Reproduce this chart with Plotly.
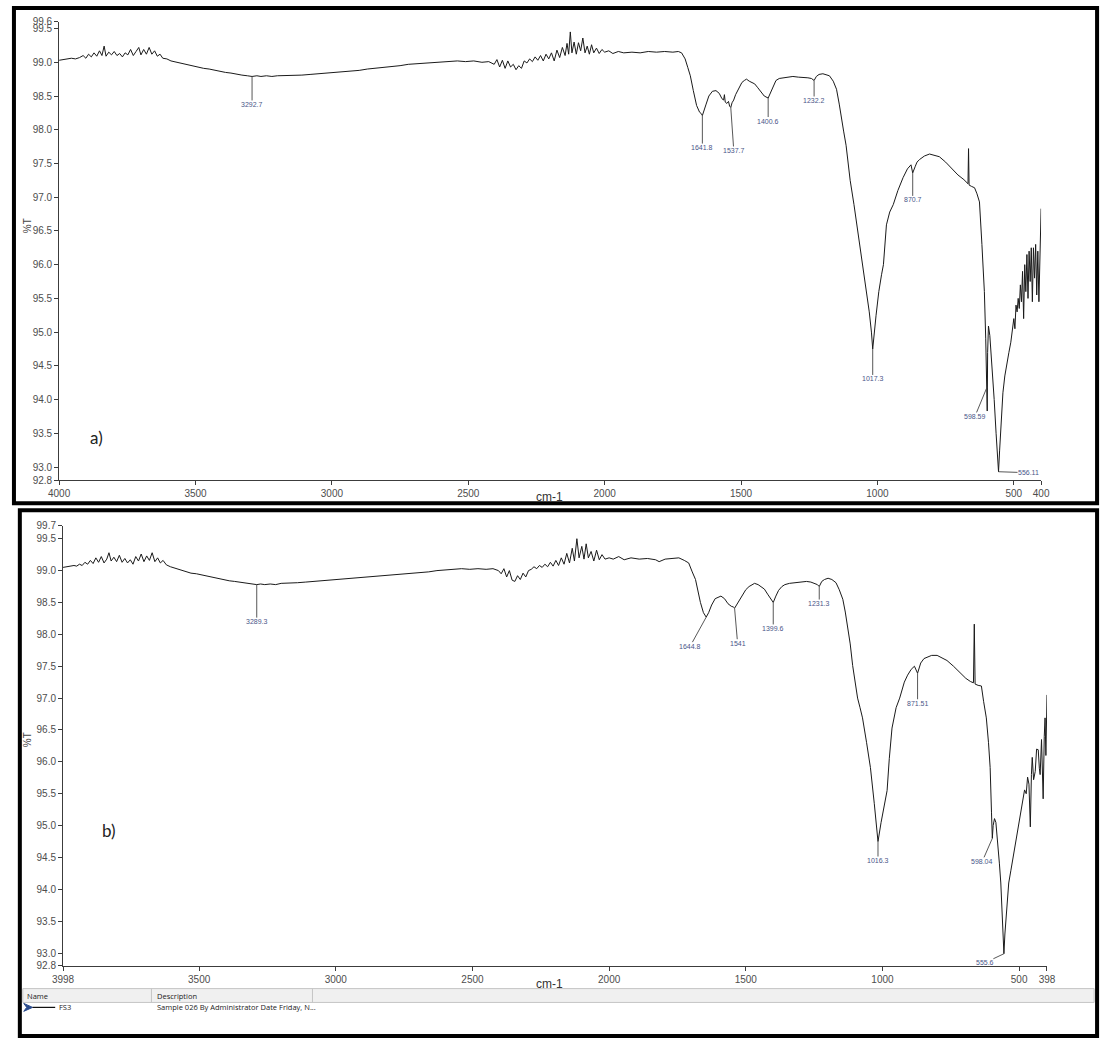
import numpy as np
import plotly.graph_objects as go

W, H = 1110, 1046

# ---------------- spectrum a) : (wavenumber cm-1, %T) ----------------
spec_a = [
    (4000, 99.03), (3985, 99.04), (3970, 99.04), (3955, 99.06), (3940, 99.05), (3925, 99.07),
    (3912, 99.10), (3902, 99.06), (3892, 99.12), (3882, 99.08), (3872, 99.14), (3862, 99.09),
    (3852, 99.17), (3843, 99.10), (3835, 99.24), (3828, 99.09), (3818, 99.15), (3808, 99.11),
    (3798, 99.16), (3788, 99.10), (3778, 99.13), (3768, 99.08), (3758, 99.14), (3748, 99.11),
    (3738, 99.19), (3728, 99.10), (3718, 99.16), (3708, 99.22), (3700, 99.11), (3690, 99.19),
    (3680, 99.12), (3670, 99.22), (3660, 99.12), (3650, 99.17), (3640, 99.09), (3630, 99.12),
    (3620, 99.06), (3605, 99.05), (3590, 99.02), (3570, 99.00), (3550, 98.98), (3530, 98.96),
    (3510, 98.95), (3490, 98.93), (3470, 98.91), (3450, 98.90), (3430, 98.88), (3410, 98.87),
    (3390, 98.85), (3370, 98.84), (3350, 98.82), (3330, 98.81), (3310, 98.80), (3292.7, 98.79),
    (3275, 98.80), (3260, 98.79), (3240, 98.80), (3220, 98.79), (3200, 98.80), (3170, 98.80),
    (3140, 98.81), (3110, 98.81), (3080, 98.82), (3050, 98.83), (3020, 98.84), (2990, 98.84),
    (2960, 98.86), (2930, 98.87), (2900, 98.88), (2870, 98.90), (2840, 98.91), (2810, 98.92),
    (2780, 98.94), (2750, 98.95), (2720, 98.97), (2690, 98.98), (2660, 98.99), (2630, 99.00),
    (2600, 99.01), (2570, 99.01), (2540, 99.02), (2510, 99.01), (2480, 99.02), (2450, 99.00),
    (2425, 99.01), (2405, 98.97), (2395, 99.04), (2385, 98.93), (2375, 99.03), (2365, 98.91),
    (2355, 99.02), (2345, 98.93), (2335, 98.97), (2325, 98.89), (2315, 98.95), (2305, 98.91),
    (2295, 99.02), (2285, 98.99), (2275, 99.05), (2265, 99.01), (2255, 99.08), (2245, 99.03),
    (2235, 99.10), (2225, 99.02), (2215, 99.12), (2205, 99.05), (2195, 99.14), (2185, 99.02),
    (2175, 99.18), (2165, 99.07), (2155, 99.22), (2145, 99.10), (2138, 99.28), (2132, 99.12),
    (2126, 99.45), (2120, 99.14), (2112, 99.30), (2104, 99.12), (2096, 99.29), (2088, 99.17),
    (2080, 99.36), (2072, 99.14), (2064, 99.24), (2056, 99.12), (2048, 99.26), (2040, 99.14),
    (2030, 99.21), (2020, 99.13), (2010, 99.19), (2000, 99.15), (1985, 99.17), (1970, 99.13),
    (1950, 99.16), (1930, 99.14), (1900, 99.15), (1870, 99.14), (1840, 99.16), (1810, 99.15),
    (1780, 99.16), (1750, 99.15), (1730, 99.16), (1718, 99.14), (1705, 99.05), (1695, 98.92),
    (1686, 98.80), (1675, 98.58), (1663, 98.36), (1652, 98.26), (1646, 98.24), (1641.8, 98.21),
    (1636, 98.27), (1628, 98.38), (1618, 98.50), (1605, 98.57), (1592, 98.58), (1580, 98.54),
    (1570, 98.46), (1564, 98.44), (1561, 98.52), (1558, 98.41), (1552, 98.39), (1546, 98.42),
    (1542, 98.35), (1537.7, 98.33), (1533, 98.40), (1527, 98.44), (1520, 98.52), (1512, 98.58),
    (1505, 98.63), (1497, 98.70), (1488, 98.73), (1480, 98.75), (1470, 98.72), (1460, 98.70),
    (1450, 98.68), (1440, 98.63), (1428, 98.56), (1415, 98.50), (1400.6, 98.47), (1392, 98.55),
    (1383, 98.65), (1372, 98.73), (1360, 98.76), (1345, 98.77), (1330, 98.78), (1310, 98.79),
    (1290, 98.78), (1270, 98.78), (1255, 98.77), (1242, 98.76), (1232.2, 98.73), (1224, 98.79),
    (1214, 98.82), (1200, 98.83), (1188, 98.82), (1176, 98.80), (1162, 98.72), (1150, 98.60),
    (1140, 98.38), (1133, 98.17), (1124, 97.98), (1115, 97.77), (1100, 97.25), (1086, 96.89),
    (1075, 96.59), (1060, 96.15), (1043, 95.71), (1030, 95.30), (1022, 95.00), (1017.3, 94.75),
    (1005, 95.25), (995, 95.60), (985, 95.85), (978, 96.00), (967, 96.59), (955, 96.78),
    (942, 96.89), (925, 97.10), (906, 97.29), (890, 97.42), (877, 97.48), (870.7, 97.36),
    (862, 97.45), (855, 97.52), (845, 97.56), (828, 97.61), (809, 97.64), (790, 97.62),
    (773, 97.60), (750, 97.52), (727, 97.43), (705, 97.33), (683, 97.26), (672, 97.22),
    (668, 97.20), (666, 97.72), (664, 97.18), (655, 97.16), (644, 97.14), (635, 97.05),
    (626, 96.93), (617, 96.30), (608, 95.60), (603, 94.90), (598.59, 94.18), (597.5, 93.83),
    (596, 94.70), (593, 95.09), (588, 94.95), (580, 94.50), (572, 94.00), (565, 93.50),
    (560, 93.10), (556.11, 92.93), (552, 93.25), (545, 93.70), (540, 94.10), (533, 94.35),
    (526, 94.55), (518, 94.70), (511, 94.85), (505, 95.10), (500, 95.20), (496, 95.05),
    (492, 95.40), (488, 95.30), (484, 95.50), (480, 95.35), (476, 95.70), (472, 95.45),
    (468, 95.90), (464, 95.20), (460, 96.00), (456, 95.60), (452, 96.15), (448, 95.50),
    (444, 96.20), (440, 95.75), (436, 96.25), (432, 95.45), (428, 96.25), (424, 95.80),
    (420, 96.30), (416, 95.55), (412, 96.20), (408, 95.45), (404, 96.10), (400, 96.83),
]

# ---------------- spectrum b) : (wavenumber cm-1, %T) ----------------
spec_b = [
    (3998, 99.05), (3985, 99.06), (3970, 99.07), (3958, 99.08), (3948, 99.07), (3938, 99.10),
    (3928, 99.08), (3918, 99.13), (3908, 99.10), (3898, 99.16), (3888, 99.11), (3878, 99.20),
    (3868, 99.13), (3858, 99.22), (3848, 99.12), (3838, 99.18), (3830, 99.28), (3822, 99.15),
    (3812, 99.21), (3802, 99.14), (3792, 99.24), (3782, 99.13), (3772, 99.19), (3762, 99.12),
    (3752, 99.17), (3742, 99.10), (3732, 99.22), (3722, 99.15), (3712, 99.26), (3702, 99.14),
    (3692, 99.23), (3682, 99.16), (3672, 99.28), (3662, 99.14), (3652, 99.20), (3642, 99.12),
    (3632, 99.16), (3620, 99.09), (3605, 99.06), (3590, 99.04), (3570, 99.01), (3550, 98.99),
    (3530, 98.96), (3510, 98.95), (3490, 98.93), (3470, 98.91), (3450, 98.89), (3430, 98.87),
    (3410, 98.86), (3390, 98.84), (3370, 98.83), (3350, 98.82), (3330, 98.81), (3310, 98.80),
    (3300, 98.79), (3289.3, 98.78), (3275, 98.79), (3260, 98.78), (3240, 98.79), (3220, 98.78),
    (3200, 98.80), (3170, 98.80), (3140, 98.81), (3110, 98.82), (3080, 98.83), (3050, 98.85),
    (3020, 98.86), (2990, 98.87), (2960, 98.88), (2930, 98.89), (2900, 98.90), (2870, 98.91),
    (2840, 98.92), (2810, 98.93), (2780, 98.94), (2750, 98.95), (2720, 98.96), (2690, 98.97),
    (2660, 98.98), (2630, 99.00), (2600, 99.01), (2570, 99.02), (2540, 99.03), (2510, 99.02),
    (2480, 99.03), (2450, 99.02), (2425, 99.03), (2405, 99.00), (2395, 98.95), (2385, 99.03),
    (2375, 98.90), (2365, 99.00), (2355, 98.85), (2345, 98.83), (2335, 98.92), (2325, 98.86),
    (2315, 98.96), (2305, 98.90), (2295, 99.00), (2285, 99.02), (2275, 99.06), (2265, 99.03),
    (2255, 99.08), (2245, 99.05), (2235, 99.10), (2225, 99.06), (2215, 99.13), (2205, 99.07),
    (2195, 99.16), (2185, 99.08), (2175, 99.20), (2165, 99.10), (2155, 99.27), (2145, 99.12),
    (2135, 99.35), (2127, 99.15), (2118, 99.50), (2110, 99.20), (2100, 99.38), (2092, 99.18),
    (2084, 99.42), (2076, 99.20), (2066, 99.30), (2056, 99.15), (2046, 99.32), (2036, 99.17),
    (2026, 99.25), (2015, 99.18), (2000, 99.20), (1985, 99.18), (1965, 99.22), (1945, 99.17),
    (1920, 99.20), (1890, 99.18), (1860, 99.19), (1830, 99.17), (1817, 99.14), (1795, 99.18),
    (1770, 99.19), (1745, 99.20), (1725, 99.16), (1709, 99.12), (1696, 98.98), (1684, 98.86),
    (1675, 98.68), (1666, 98.50), (1655, 98.34), (1648, 98.29), (1644.8, 98.27), (1636, 98.34),
    (1625, 98.46), (1612, 98.56), (1600, 98.59), (1591, 98.60), (1578, 98.56), (1565, 98.48),
    (1553, 98.44), (1546, 98.43), (1541, 98.41), (1534, 98.46), (1524, 98.54), (1512, 98.63),
    (1500, 98.70), (1488, 98.75), (1475, 98.79), (1468, 98.80), (1455, 98.78), (1443, 98.75),
    (1432, 98.71), (1420, 98.63), (1408, 98.55), (1399.6, 98.50), (1390, 98.60), (1380, 98.69),
    (1368, 98.75), (1357, 98.78), (1340, 98.80), (1320, 98.81), (1300, 98.82), (1278, 98.83),
    (1262, 98.82), (1248, 98.80), (1238, 98.78), (1231.3, 98.75), (1222, 98.83), (1212, 98.86),
    (1199, 98.88), (1185, 98.86), (1170, 98.81), (1158, 98.70), (1145, 98.55), (1136, 98.35),
    (1127, 98.13), (1118, 97.85), (1109, 97.51), (1100, 97.25), (1091, 97.00), (1082, 96.85),
    (1073, 96.69), (1058, 96.30), (1044, 95.91), (1030, 95.35), (1022, 95.00), (1016.3, 94.75),
    (1005, 95.05), (995, 95.30), (983, 95.55), (975, 96.05), (965, 96.53), (950, 96.85),
    (937, 97.00), (920, 97.25), (908, 97.36), (895, 97.45), (883, 97.50), (871.51, 97.39),
    (860, 97.55), (848, 97.62), (836, 97.64), (820, 97.67), (800, 97.67), (785, 97.64),
    (764, 97.59), (740, 97.50), (714, 97.39), (695, 97.31), (678, 97.26), (667, 97.24),
    (664, 98.16), (661, 97.22), (650, 97.20), (638, 97.19), (630, 96.95), (620, 96.69),
    (612, 96.30), (606, 95.91), (601, 95.20), (598.04, 94.80), (595, 95.00), (590, 95.11),
    (585, 95.05), (578, 94.75), (572, 94.40), (567, 94.10), (562, 93.60), (558, 93.20),
    (555.6, 92.99), (552, 93.30), (545, 93.70), (538, 94.10), (530, 94.30), (522, 94.50),
    (513, 94.72), (505, 94.95), (495, 95.19), (488, 95.35), (480, 95.56), (474, 95.50),
    (469, 95.76), (464, 95.65), (459, 94.98), (455, 95.80), (452, 96.07), (447, 95.72),
    (441, 95.85), (436, 96.20), (430, 96.19), (426, 95.90), (423, 95.80), (418, 96.35),
    (412, 95.42), (408, 96.40), (405, 96.69), (402, 96.10), (400, 96.90), (398, 97.05),
]

# picked peak positions printed on each spectrum
peaks_a = ["3292.7", "1641.8", "1537.7", "1400.6", "1232.2", "1017.3", "870.7", "598.59", "556.11"]
peaks_b = ["3289.3", "1644.8", "1541", "1399.6", "1231.3", "1016.3", "871.51", "598.04", "555.6"]

# axis ticks
xticks_a = [4000, 3500, 3000, 2500, 2000, 1500, 1000, 500, 400]
xticks_b = [3998, 3500, 3000, 2500, 2000, 1500, 1000, 500, 398]
yticks_a = [99.6, 99.5, 99.0, 98.5, 98.0, 97.5, 97.0, 96.5, 96.0, 95.5, 95.0, 94.5, 94.0, 93.5, 93.0, 92.8]
yticks_b = [99.7, 99.5, 99.0, 98.5, 98.0, 97.5, 97.0, 96.5, 96.0, 95.5, 95.0, 94.5, 94.0, 93.5, 93.0, 92.8]

# leader offsets (screen px) for the peak labels
lead_a = [(0, 28), (0, 32), (3, 43), (0, 23), (0, 20), (0, 30), (0, 27), (-12, 29), (30, 1)]
lead_b = [(0, 37), (-16, 29), (3, 35), (0, 26), (0, 17), (0, 19), (0, 30), (-10, 23), (-19, 9)]


def px(x):
    """page x (px) -> paper fraction"""
    return x / W


def py(y):
    """page y (px, from top) -> paper fraction"""
    return 1 - y / H


TICK_FONT = dict(family="Liberation Sans Narrow, Liberation Sans, Arial", size=10, color="#4d4d4d")
AX_COL = "#3c3c3c"

fig = go.Figure()

wa, ta = zip(*spec_a)
wb, tb = zip(*spec_b)
fig.add_trace(go.Scatter(x=wa, y=ta, mode="lines", line=dict(color="#1a1a1a", width=1),
                         xaxis="x", yaxis="y", showlegend=False, hoverinfo="skip"))
fig.add_trace(go.Scatter(x=wb, y=tb, mode="lines", line=dict(color="#1a1a1a", width=1),
                         xaxis="x2", yaxis="y2", showlegend=False, hoverinfo="skip"))


def xaxis_cfg(dom, rng, ticks, anchor):
    return dict(domain=dom, range=rng, tickvals=ticks, ticktext=[str(t) for t in ticks],
                showline=True, linecolor=AX_COL, linewidth=1, ticks="outside", ticklen=4,
                tickcolor=AX_COL, showgrid=False, zeroline=False, tickfont=TICK_FONT, anchor=anchor)


def yaxis_cfg(dom, rng, ticks, anchor):
    return dict(domain=dom, range=rng, tickvals=ticks, ticktext=[f"{t:.1f}" for t in ticks],
                showline=True, linecolor=AX_COL, linewidth=1, ticks="outside", ticklen=4,
                tickcolor=AX_COL, showgrid=False, zeroline=False, tickfont=TICK_FONT, anchor=anchor)


fig.update_layout(
    width=W, height=H, margin=dict(l=0, r=0, t=0, b=0),
    paper_bgcolor="white", plot_bgcolor="white",
    xaxis=xaxis_cfg([px(49), px(1049)], [4000, 400], xticks_a, "y"),
    yaxis=yaxis_cfg([py(480), py(16)], [92.8, 99.6], yticks_a, "x"),
    xaxis2=xaxis_cfg([px(53), px(1055)], [3998, 398], xticks_b, "y2"),
    yaxis2=yaxis_cfg([py(971), py(526)], [92.8, 99.7], yticks_b, "x2"),
)

PEAK_FONT = dict(family="Liberation Sans, Arial", size=7, color="#4a5688")


def add_peaks(labels, leads, spec, xref, yref):
    w = np.array([p[0] for p in spec])[::-1]
    t = np.array([p[1] for p in spec])[::-1]
    for lab, (ax, ay) in zip(labels, leads):
        x = float(lab)
        y = float(np.interp(x, w, t))
        fig.add_annotation(x=x, y=y, xref=xref, yref=yref, text=lab, showarrow=True,
                           arrowhead=0, arrowwidth=0.9, arrowcolor="#444", ax=ax, ay=ay,
                           standoff=0, borderpad=0, font=PEAK_FONT)


add_peaks(peaks_a, lead_a, spec_a, "x", "y")
add_peaks(peaks_b, lead_b, spec_b, "x2", "y2")


def text(x, y, s, size, color="#333", family="Liberation Sans Narrow, Liberation Sans, Arial",
         xanchor="center", angle=0):
    fig.add_annotation(x=px(x), y=py(y), xref="paper", yref="paper", text=s, showarrow=False,
                       xanchor=xanchor, yanchor="middle", textangle=angle,
                       font=dict(family=family, size=size, color=color))


# axis titles and panel letters
text(17, 222, "%T", 10, "#444", angle=-90)
text(17, 742, "%T", 10, "#444", angle=-90)
text(548, 497, "cm-1", 12, "#333")
text(548, 989, "cm-1", 12, "#333")
text(87, 437, "a)", 17, "#222", family="Lato, Open Sans, sans-serif")
text(100, 834, "b)", 17, "#222", family="Lato, Open Sans, sans-serif")

# panel frames
shapes = [
    dict(type="rect", xref="paper", yref="paper", x0=px(3), x1=px(1106), y0=py(503), y1=py(2),
         line=dict(color="black", width=4)),
    dict(type="rect", xref="paper", yref="paper", x0=px(9), x1=px(1106), y0=py(1042), y1=py(510),
         line=dict(color="black", width=4)),
    # legend table header
    dict(type="rect", xref="paper", yref="paper", x0=px(12), x1=px(1103), y0=py(1008), y1=py(994),
         fillcolor="#f0f0f0", line=dict(color="#c4c4c4", width=1), layer="below"),
    dict(type="line", xref="paper", yref="paper", x0=px(143), x1=px(143), y0=py(1008), y1=py(994),
         line=dict(color="#c4c4c4", width=1)),
    dict(type="line", xref="paper", yref="paper", x0=px(307), x1=px(307), y0=py(1008), y1=py(994),
         line=dict(color="#c4c4c4", width=1)),
    # legend swatch: chevron + line
    dict(type="path", xref="paper", yref="paper",
         path=f"M {px(13)},{py(1009)} L {px(22)},{py(1013)} L {px(13)},{py(1017)} L {px(16)},{py(1013)} Z",
         fillcolor="#2a4b8d", line=dict(color="#2a4b8d", width=1)),
    dict(type="line", xref="paper", yref="paper", x0=px(22), x1=px(45), y0=py(1013), y1=py(1013),
         line=dict(color="#111", width=1.2)),
]
fig.update_layout(shapes=shapes)

TABLE_FONT = "Open Sans, Noto Sans, sans-serif"
text(14, 1001, "Name", 7.5, "#222", family=TABLE_FONT, xanchor="left")
text(147, 1001, "Description", 7.5, "#222", family=TABLE_FONT, xanchor="left")
text(47, 1013, "FS3", 7.5, "#222", family=TABLE_FONT, xanchor="left")
text(147, 1013, "Sample 026 By Administrator Date Friday, N...", 7.5, "#222", family=TABLE_FONT,
     xanchor="left")

fig.write_html("out.html")
